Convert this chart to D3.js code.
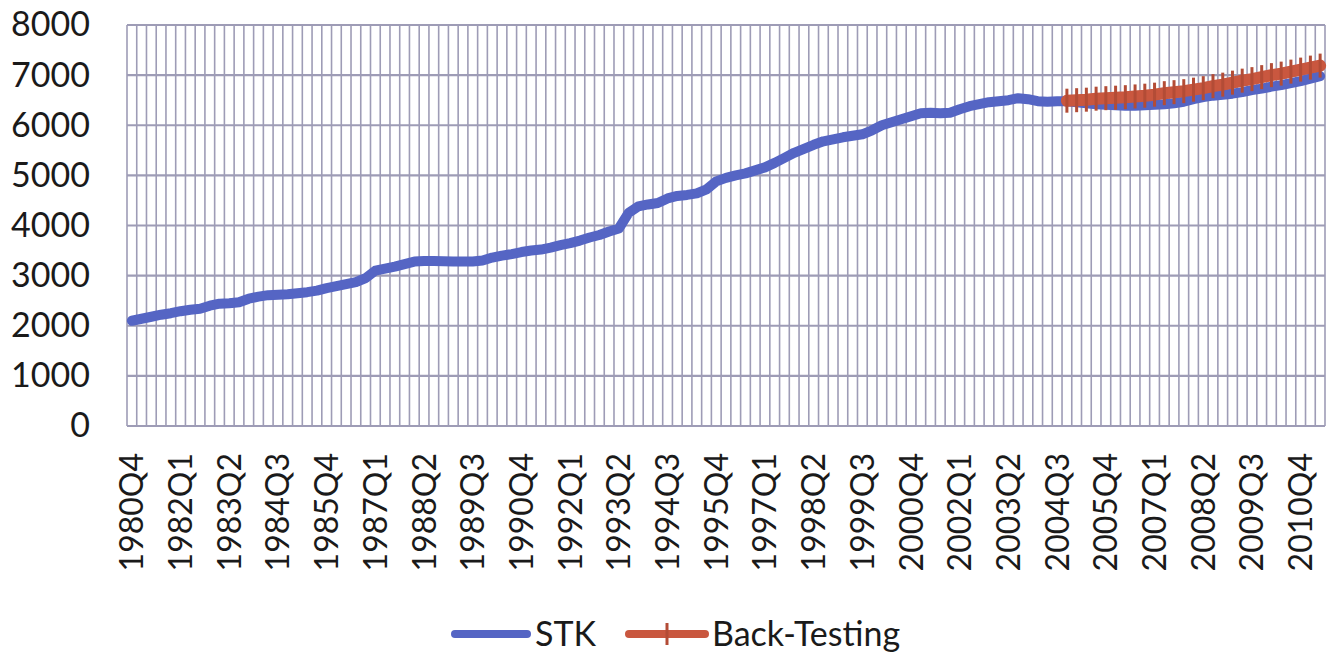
<!DOCTYPE html>
<html>
<head>
<meta charset="utf-8">
<script src="https://cdn.jsdelivr.net/npm/d3@7"></script>
<style>
  html, body { margin: 0; padding: 0; background: #ffffff; }
  svg { display: block; }
</style>
</head>
<body>
<svg id="chart" width="1327" height="657"></svg>
<script>
// ---------- data ----------
const startYear = 1980, startQuarter = 4, nQuarters = 123;
const quarters = [];
for (let i = 0; i < nQuarters; i++) {
  const q = startQuarter - 1 + i;
  quarters.push((startYear + Math.floor(q / 4)) + "Q" + (q % 4 + 1));
}
const stk = [
  2100, 2140, 2180, 2220, 2250, 2290, 2320, 2340, 2400, 2440,
  2450, 2470, 2540, 2580, 2610, 2620, 2630, 2650, 2670, 2700,
  2750, 2790, 2830, 2870, 2950, 3100, 3140, 3180, 3230, 3280,
  3290, 3290, 3285, 3280, 3280, 3280, 3300, 3360, 3400, 3430,
  3470, 3500, 3520, 3560, 3610, 3650, 3700, 3760, 3810, 3880,
  3940, 4250, 4380, 4420, 4450, 4540, 4590, 4610, 4640, 4720,
  4880, 4950, 5000, 5040, 5100, 5160, 5250, 5350, 5450, 5530,
  5610, 5680, 5720, 5760, 5790, 5820, 5900, 6000, 6060, 6120,
  6180, 6240, 6250, 6240, 6250, 6320, 6380, 6420, 6460, 6480,
  6500, 6540, 6520, 6480, 6470, 6480, 6480, 6460, 6440, 6420,
  6410, 6400, 6390, 6390, 6400, 6410, 6420, 6440, 6470, 6520,
  6560, 6590, 6610, 6630, 6660, 6700, 6730, 6770, 6800, 6840,
  6880, 6930, 6980
];
const backStart = 96; // 2004Q4
const backTesting = [
  6490, 6500, 6510, 6530, 6540, 6550, 6560, 6575, 6590, 6610,
  6640, 6660, 6680, 6710, 6740, 6780, 6810, 6850, 6890, 6920,
  6960, 7000, 7030, 7070, 7110, 7150, 7190
];
const yTicks = [0, 1000, 2000, 3000, 4000, 5000, 6000, 7000, 8000];
const labelEvery = 5;
const seriesNames = ["STK", "Back-Testing"];

// ---------- layout ----------
const svg = d3.select("#chart");
const plotL = 127, plotR = 1325, plotT = 25, plotB = 426;
const font = "Lato, 'Open Sans', sans-serif";
const blue = "#5565c4", red = "#c9573f", grid = "#9e9cb6";

const x = d3.scaleBand().domain(quarters).range([plotL, plotR]).padding(0);
const y = d3.scaleLinear().domain([0, 8000]).range([plotB, plotT]);
const cx = q => x(q) + x.bandwidth() / 2;

// vertical gridlines at category boundaries
const bounds = quarters.map(q => x(q)).concat([plotR]);
svg.append("g").selectAll("line").data(bounds).join("line")
  .attr("x1", d => d).attr("x2", d => d)
  .attr("y1", plotT).attr("y2", plotB)
  .attr("stroke", grid).attr("stroke-width", 1.6);

// horizontal gridlines
svg.append("g").selectAll("line").data(yTicks).join("line")
  .attr("x1", plotL).attr("x2", plotR)
  .attr("y1", d => y(d)).attr("y2", d => y(d))
  .attr("stroke", grid).attr("stroke-width", 2.2);

// y-axis labels
const yAxis = d3.axisLeft(y).tickValues(yTicks).tickSize(0).tickPadding(37)
  .tickFormat(d3.format("d"));
const gy = svg.append("g").attr("transform", `translate(${plotL},0)`).call(yAxis);
gy.select(".domain").remove();
gy.selectAll("text").attr("font-family", font).attr("font-size", 34)
  .attr("fill", "#1a1a1a");

// x-axis labels
const xLabels = quarters.filter((q, i) => i % labelEvery === 0);
const xAxis = d3.axisBottom(x).tickValues(xLabels).tickSize(0);
const gx = svg.append("g").attr("transform", `translate(0,${plotB})`).call(xAxis);
gx.select(".domain").remove();
gx.selectAll("text")
  .attr("font-family", font).attr("font-size", 32).attr("fill", "#1a1a1a")
  .attr("text-anchor", "end")
  .attr("transform", "rotate(-90)")
  .attr("x", -27).attr("y", 0).attr("dy", "0.36em");

// lines
const line = d3.line().x(d => cx(d.q)).y(d => y(d.v));
const stkData = stk.map((v, i) => ({ q: quarters[i], v }));
const btData = backTesting.map((v, i) => ({ q: quarters[backStart + i], v }));

svg.append("path").datum(stkData).attr("d", line)
  .attr("fill", "none").attr("stroke", blue).attr("stroke-width", 10)
  .attr("stroke-linejoin", "round").attr("stroke-linecap", "round");

svg.append("path").datum(btData).attr("d", line)
  .attr("fill", "none").attr("stroke", red).attr("stroke-width", 12)
  .attr("stroke-linejoin", "round").attr("stroke-linecap", "round");

// plus markers
svg.append("g").selectAll("line").data(btData).join("line")
  .attr("x1", d => cx(d.q)).attr("x2", d => cx(d.q))
  .attr("y1", d => y(d.v) - 12).attr("y2", d => y(d.v) + 12)
  .attr("stroke", "#b34c36").attr("stroke-width", 3);

// legend
const lg = svg.append("g").attr("font-family", font).attr("font-size", 34).attr("fill", "#1a1a1a");
const ly = 634;
lg.append("line").attr("x1", 455).attr("x2", 527).attr("y1", ly).attr("y2", ly)
  .attr("stroke", blue).attr("stroke-width", 8).attr("stroke-linecap", "round");
lg.append("text").attr("x", 535).attr("y", ly).attr("dy", "0.36em").text(seriesNames[0]);
lg.append("line").attr("x1", 629).attr("x2", 705).attr("y1", ly).attr("y2", ly)
  .attr("stroke", red).attr("stroke-width", 8).attr("stroke-linecap", "round");
lg.append("line").attr("x1", 667).attr("x2", 667).attr("y1", ly - 11).attr("y2", ly + 11)
  .attr("stroke", "#b34c36").attr("stroke-width", 3);
lg.append("text").attr("x", 712).attr("y", ly).attr("dy", "0.36em").text(seriesNames[1]);
</script>
</body>
</html>
